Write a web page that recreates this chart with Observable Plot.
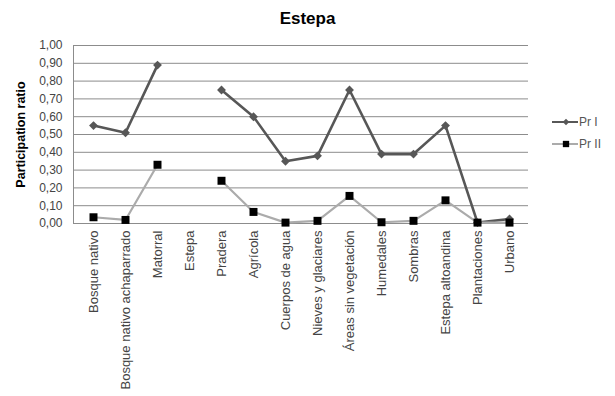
<!DOCTYPE html>
<html>
<head>
<meta charset="utf-8">
<script src="https://cdn.jsdelivr.net/npm/d3@7"></script>
<script src="https://cdn.jsdelivr.net/npm/@observablehq/plot@0.6"></script>
<style>
  html, body { margin: 0; padding: 0; background: #fff; }
  #wrap { position: relative; width: 615px; height: 396px; font-family: "Liberation Sans", Arial, sans-serif; }
  #title { position: absolute; left: 0; top: 9px; width: 615px; text-align: center; font-size: 17px; font-weight: bold; color: #000; }
  #chart { position: absolute; left: 0; top: 0; }
  #legend { position: absolute; left: 552px; top: 111px; font-size: 12px; color: #555; }
  .item { display: flex; align-items: center; height: 22px; }
  .item svg { display: block; }
</style>
</head>
<body>
<div id="wrap">
  <div id="chart"></div>
  <div id="title">Estepa</div>
  <div id="legend"></div>
</div>
<script>
// Land-cover classes along the x axis
const categories = [
  "Bosque nativo", "Bosque nativo achaparrado", "Matorral", "Estepa", "Pradera",
  "Agrícola", "Cuerpos de agua", "Nieves y glaciares", "Áreas sin vegetación",
  "Humedales", "Sombras", "Estepa altoandina", "Plantaciones", "Urbano"
];
// Participation ratio per class (null = no value for that class)
const prI  = [0.55, 0.51, 0.89, null, 0.75, 0.60, 0.35, 0.38, 0.75, 0.39, 0.39, 0.55, 0.005, 0.025];
const prII = [0.035, 0.02, 0.33, null, 0.24, 0.065, 0.005, 0.015, 0.155, 0.007, 0.015, 0.13, 0.005, 0.005];
const seriesNames = ["Pr I", "Pr II"];
const yTicks = [0, 0.1, 0.2, 0.3, 0.4, 0.5, 0.6, 0.7, 0.8, 0.9, 1.0];

const rowsI = categories.map((c, i) => ({cat: c, v: prI[i]}));
const rowsII = categories.map((c, i) => ({cat: c, v: prII[i]}));

const fmt = d => d3.format(".2f")(d).replace(".", ",");

const colorI = "#575757";
const colorIIline = "#ababab";
const colorIImark = "#000000";

const chart = Plot.plot({
  width: 540,
  height: 396,
  marginTop: 45,
  marginBottom: 173,
  marginLeft: 73,
  marginRight: 12,
  style: {fontFamily: "Liberation Sans, Arial, sans-serif", fontSize: "12px", color: "#444", background: "#fff"},
  x: {type: "point", domain: categories, padding: 0.5},
  y: {domain: [0, 1], ticks: yTicks},
  marks: [
    Plot.gridY(yTicks, {stroke: "#8c8c8c", strokeOpacity: 1, strokeWidth: 1}),
    Plot.frame({anchor: "left", stroke: "#8c8c8c"}),
    Plot.axisY(yTicks, {tickFormat: fmt, tickSize: 0, tickPadding: 11, fontSize: 12,
      label: "Participation ratio", labelAnchor: "center", labelArrow: "none", labelOffset: 57}),
    Plot.axisX({tickSize: 0, tickRotate: -90, tickPadding: 7, fontSize: 13, label: null}),
    Plot.line(rowsI, {x: "cat", y: "v", stroke: colorI, strokeWidth: 2.6}),
    Plot.line(rowsII, {x: "cat", y: "v", stroke: colorIIline, strokeWidth: 2.2}),
    Plot.dot(rowsI, {x: "cat", y: "v", symbol: "diamond2", r: 4, fill: colorI, stroke: null}),
    Plot.dot(rowsII, {x: "cat", y: "v", symbol: "square", r: 4.5, fill: colorIImark, stroke: null})
  ]
});
// Bold y-axis title
d3.select(chart).selectAll("g[aria-label='y-axis label'] text")
  .style("font-weight", "bold").style("font-size", "12.5px").attr("fill", "#000");
document.getElementById("chart").appendChild(chart);

// Legend
const legendSpec = [
  {name: seriesNames[0], line: colorI, mark: colorI, symbol: d3.symbolDiamond2, size: 28},
  {name: seriesNames[1], line: colorIIline, mark: colorIImark, symbol: d3.symbolSquare, size: 40}
];
const legend = d3.select("#legend");
for (const s of legendSpec) {
  const item = legend.append("div").attr("class", "item");
  const sw = item.append("svg").attr("width", 27).attr("height", 12);
  sw.append("line").attr("x1", 0).attr("x2", 26).attr("y1", 6).attr("y2", 6)
    .attr("stroke", s.line).attr("stroke-width", 2);
  sw.append("path").attr("d", d3.symbol(s.symbol, s.size)()).attr("transform", "translate(14,6)")
    .attr("fill", s.mark);
  item.append("span").text(s.name);
}
</script>
</body>
</html>
